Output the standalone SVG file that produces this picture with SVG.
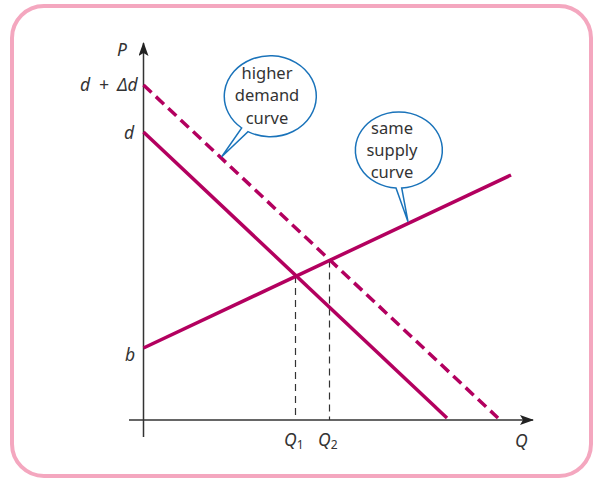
<svg xmlns="http://www.w3.org/2000/svg" width="598" height="480" viewBox="0 0 598 480">
<defs>
<style>
.axis{stroke:#333;stroke-width:1.5;fill:none}
.curve{stroke:#b3005f;stroke-width:3.5;fill:none}
.guide{stroke:#333;stroke-width:1.2;stroke-dasharray:7 5;fill:none}
.lbl{font-family:"Noto Sans","Open Sans",sans-serif;font-size:17.5px;fill:#333;font-style:italic}
.sub{font-size:12px;font-style:normal}
.call{fill:#fff;stroke:#1a73ba;stroke-width:1.5}
.ct{font-family:"Noto Sans","Open Sans",sans-serif;font-size:16.5px;fill:#333;text-anchor:middle}
</style>
<marker id="arr" markerWidth="14" markerHeight="10" refX="13" refY="5" orient="auto" markerUnits="userSpaceOnUse">
<path d="M0,0 L14,5 L0,10 L3,5 Z" fill="#222"/>
</marker>
</defs>
<rect x="12" y="6" width="579" height="470" rx="32" fill="#fff" stroke="#f4a7bf" stroke-width="4"/>
<g id="axes">
<line class="axis" x1="143.5" y1="437" x2="143.5" y2="43" marker-end="url(#arr)"/>
<line class="axis" x1="129" y1="420" x2="533" y2="420" marker-end="url(#arr)"/>
</g>
<g id="connectors">
<line class="guide" x1="295.5" y1="276" x2="295.5" y2="420"/>
<line class="guide" x1="329.5" y1="260.5" x2="329.5" y2="420"/>
<line id="demand" class="curve" x1="143.5" y1="132" x2="447" y2="418"/>
<line id="demand2" class="curve" stroke-dasharray="11 6" x1="143.5" y1="85" x2="498" y2="418"/>
<line id="supply" class="curve" x1="143.5" y1="348" x2="511" y2="175"/>
</g>
<g id="labels">
<text class="lbl" x="117" y="56">P</text>
<text class="lbl" x="80" y="91" word-spacing="4">d + Δd</text>
<text class="lbl" x="124" y="139">d</text>
<text class="lbl" x="125" y="361">b</text>
<text class="lbl" x="515" y="447">Q</text>
<text class="lbl" x="284" y="446">Q<tspan class="sub" dy="3">1</tspan></text>
<text class="lbl" x="318" y="446">Q<tspan class="sub" dy="3">2</tspan></text>
</g>
<g id="callout-demand">
<path class="call" d="M248,131.7 A46 40.5 0 1 0 241.7,128 L221.7,156.7 Z"/>
<text class="ct" x="267" y="79">higher</text>
<text class="ct" x="267" y="101">demand</text>
<text class="ct" x="267" y="124">curve</text>
</g>
<g id="callout-supply">
<path class="call" d="M401.7,188 A43.5 38 0 1 0 396,188 L408,221.7 Z"/>
<text class="ct" x="392" y="134">same</text>
<text class="ct" x="392" y="156">supply</text>
<text class="ct" x="392" y="178">curve</text>
</g>
</svg>
